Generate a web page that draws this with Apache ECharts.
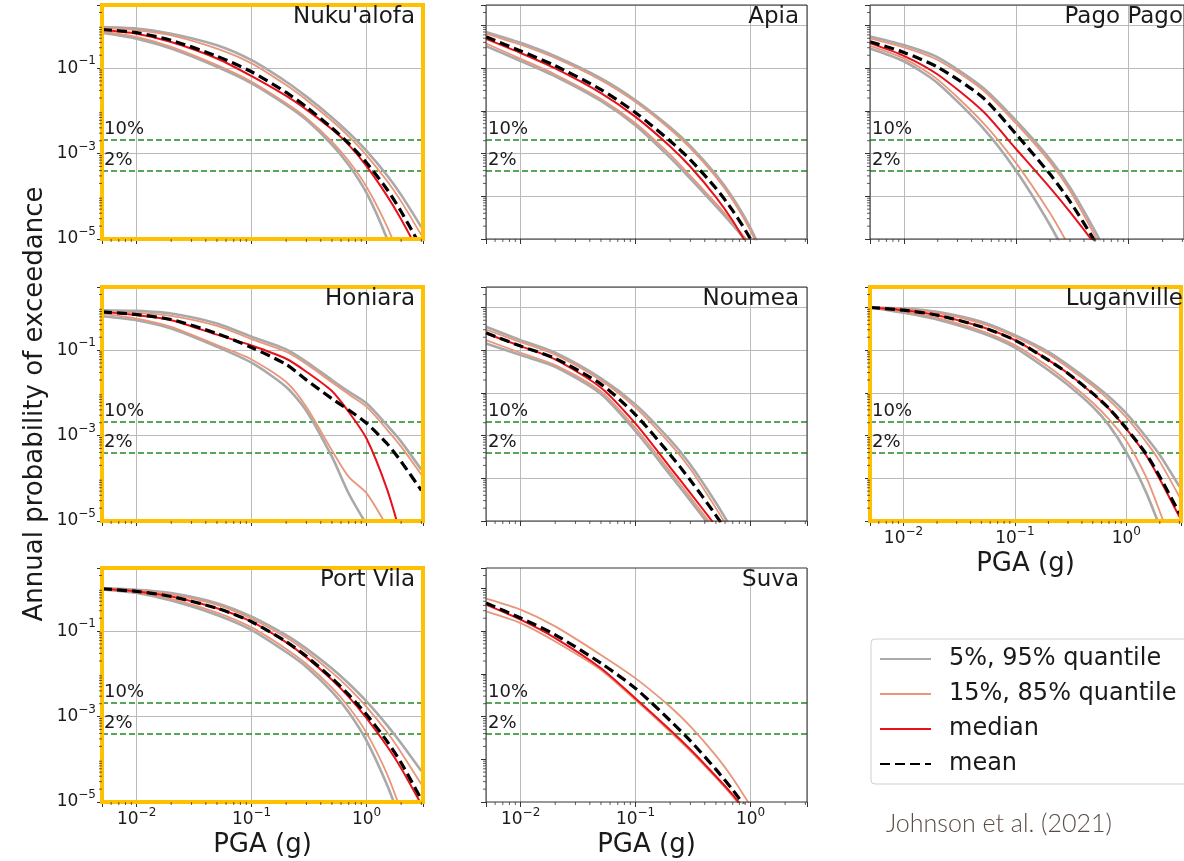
<!DOCTYPE html>
<html><head><meta charset="utf-8">
<script src="https://cdn.jsdelivr.net/npm/echarts@6/dist/echarts.min.js"></script>
<style>html,body{margin:0;padding:0;background:#fff}#chart{width:1184px;height:861px}</style>
</head><body><div id="chart"></div>
<script>
// ---------------- data ----------------
const PGA = [0.005, 0.01, 0.02, 0.05, 0.1, 0.2, 0.3, 0.5, 0.7, 1.0, 1.5, 2.0, 3.0];
const LINE_10PCT = 1 / 475;   // 10% in 50 years
const LINE_2PCT = 1 / 2475;   // 2% in 50 years
const SERIES_NAMES = ['5%, 95% quantile', '15%, 85% quantile', 'median', 'mean'];

const nuku_q05  = [0.675, 0.49, 0.286, 0.107, 0.044, 0.0138, 0.00614, 0.00163, 5.4e-4, 1.2e-4, 1.05e-5, 1.05e-6, null];
const nuku_q15  = [0.72, 0.536, 0.313, 0.117, 0.048, 0.0151, 0.00686, 0.00191, 6.7e-4, 1.67e-4, 2.03e-5, 3.1e-6, null];
const nuku_q50  = [0.79, 0.64, 0.409, 0.168, 0.065, 0.0224, 0.0107, 0.0037, 0.0016, 5.1e-4, 1.05e-4, 2.9e-5, 3.8e-6];
const nuku_mean = [0.80, 0.675, 0.448, 0.19, 0.082, 0.027, 0.0123, 0.0040, 0.00172, 6.1e-4, 1.48e-4, 4.4e-5, 6.3e-6];
const nuku_q85  = [0.87, 0.766, 0.585, 0.286, 0.129, 0.040, 0.018, 0.00585, 0.00252, 9.1e-4, 2.34e-4, 7.6e-5, 1.23e-5];
const nuku_q95  = [0.91, 0.84, 0.64, 0.343, 0.153, 0.048, 0.0215, 0.0070, 0.00306, 0.00115, 3.14e-4, 1.08e-4, 1.9e-5];

const apia_q05  = [0.327, 0.147, 0.0641, 0.017, 0.00455, 8.05e-4, 2.59e-4, 5.9e-5, 2.14e-5, 6.8e-6, null, null, null];
const apia_q15  = [0.376, 0.165, 0.071, 0.019, 0.0051, 9.4e-4, 3.0e-4, 6.8e-5, 2.4e-5, 7.4e-6, null, null, null];
const apia_q50  = [0.484, 0.226, 0.0984, 0.0261, 0.00723, 0.00147, 4.9e-4, 9.6e-5, 2.67e-5, 5.4e-6, null, null, null];
const apia_mean = [0.54, 0.252, 0.1135, 0.0315, 0.00904, 0.00197, 7.1e-4, 1.54e-4, 4.6e-5, 9.9e-6, 8.7e-7, null, null];
const apia_q85  = [0.644, 0.352, 0.172, 0.052, 0.016, 0.0037, 0.00134, 2.85e-4, 8.1e-5, 1.55e-5, 1.4e-6, null, null];
const apia_q95  = [0.705, 0.391, 0.189, 0.0574, 0.0177, 0.00412, 0.0015, 3.23e-4, 9.3e-5, 1.8e-5, 1.6e-6, null, null];

const pago_q05  = [0.289, 0.1445, 0.0445, 0.0041, 3.9e-4, 2.1e-5, 2.8e-6, null, null, null, null, null, null];
const pago_q15  = [0.333, 0.169, 0.0538, 0.00545, 5.9e-4, 4.0e-5, 6.2e-6, null, null, null, null, null, null];
const pago_q50  = [0.385, 0.194, 0.0708, 0.010, 0.00126, 1.57e-4, 4.3e-5, 7.6e-6, null, null, null, null, null];
const pago_mean = [0.414, 0.233, 0.105, 0.0208, 0.0028, 3.26e-4, 7.6e-5, 8.9e-6, 1.9e-6, null, null, null, null];
const pago_q85  = [0.495, 0.305, 0.155, 0.0312, 0.0050, 6.2e-4, 1.35e-4, 1.2e-5, 2e-6, null, null, null, null];
const pago_q95  = [0.552, 0.346, 0.178, 0.0355, 0.0058, 7.3e-4, 1.62e-4, 1.55e-5, 2.7e-6, null, null, null, null];

const honi_q05  = [0.622, 0.501, 0.321, 0.12, 0.0506, 0.0137, 0.00377, 3.2e-4, 4.4e-5, 8.3e-6, null, null, null];
const honi_q15  = [0.718, 0.548, 0.351, 0.131, 0.0605, 0.0179, 0.00467, 4.5e-4, 1.08e-4, 4.5e-5, 7.6e-6, null, null];
const honi_q50  = [0.785, 0.656, 0.50, 0.23, 0.1285, 0.0628, 0.0312, 0.01104, 0.00357, 8.5e-4, 5.8e-5, 4.4e-6, null];
const honi_mean = [0.785, 0.681, 0.52, 0.245, 0.115, 0.0463, 0.02, 0.0073, 0.00397, 0.00194, 6.6e-4, 2.47e-4, 5.2e-5];
const honi_q85  = [0.771, 0.744, 0.634, 0.37, 0.181, 0.0914, 0.0471, 0.0176, 0.00923, 0.00475, 0.0014, 5.5e-4, 1.21e-4];
const honi_q95  = [0.859, 0.828, 0.718, 0.42, 0.205, 0.104, 0.0534, 0.02, 0.01065, 0.00569, 0.00177, 7.2e-4, 1.58e-4];

const noum_q05  = [0.143, 0.0764, 0.0408, 0.0094, 0.00126, 1.2e-4, 3.0e-5, 5.0e-6, null, null, null, null, null];
const noum_q15  = [0.171, 0.0867, 0.0446, 0.0108, 0.0015, 1.45e-4, 3.6e-5, 6.0e-6, null, null, null, null, null];
const noum_q50  = [0.245, 0.124, 0.0605, 0.0132, 0.0019, 1.8e-4, 4.5e-5, 7.6e-6, null, null, null, null, null];
const noum_mean = [0.254, 0.124, 0.0638, 0.016, 0.00306, 3.56e-4, 9.0e-5, 1.36e-5, 3.5e-6, null, null, null, null];
const noum_q85  = [0.304, 0.154, 0.0778, 0.0195, 0.0045, 6.4e-4, 1.65e-4, 2.0e-5, 4.4e-6, null, null, null, null];
const noum_q95  = [0.351, 0.171, 0.0867, 0.0219, 0.0053, 7.9e-4, 2.07e-4, 2.67e-5, 5.9e-6, null, null, null, null];

const lug_q05  = [0.995, 0.746, 0.521, 0.254, 0.115, 0.034, 0.0152, 0.00473, 0.00173, 4.1e-4, 4.8e-5, 7.4e-6, null];
const lug_q15  = [0.995, 0.787, 0.57, 0.283, 0.131, 0.0408, 0.0182, 0.00586, 0.0024, 7.6e-4, 1.1e-4, 1.66e-5, 1e-6];
const lug_q50  = [0.995, 0.861, 0.658, 0.351, 0.171, 0.0583, 0.0284, 0.0095, 0.0042, 0.00143, 3.5e-4, 9.5e-5, 1.25e-5];
const lug_mean = [0.995, 0.861, 0.658, 0.351, 0.171, 0.0583, 0.0284, 0.0097, 0.00432, 0.00148, 3.8e-4, 1.09e-4, 1.52e-5];
const lug_q85  = [0.995, 0.91, 0.746, 0.421, 0.205, 0.0806, 0.0393, 0.0144, 0.00678, 0.00267, 7.2e-4, 2.45e-4, 3.7e-5];
const lug_q95  = [0.995, 0.942, 0.787, 0.46, 0.224, 0.0914, 0.0446, 0.0166, 0.0081, 0.0033, 9.4e-4, 3.5e-4, 6.4e-5];

const pv_q05  = [0.94, 0.777, 0.521, 0.239, 0.106, 0.0325, 0.0145, 0.00383, 0.00126, 2.72e-4, 2.6e-5, 3.5e-6, null];
const pv_q15  = [0.95, 0.81, 0.57, 0.271, 0.122, 0.0383, 0.017, 0.00474, 0.00167, 4.15e-4, 4.7e-5, 6.2e-6, null];
const pv_q50  = [0.98, 0.85, 0.647, 0.343, 0.166, 0.0547, 0.0243, 0.00731, 0.0029, 9.2e-4, 2.07e-4, 6.2e-5, 8.8e-6];
const pv_mean = [0.98, 0.85, 0.647, 0.343, 0.166, 0.0566, 0.0257, 0.00793, 0.00325, 0.00111, 2.7e-4, 8.3e-5, 1.14e-5];
const pv_q85  = [0.99, 0.897, 0.721, 0.411, 0.195, 0.0705, 0.033, 0.0108, 0.00468, 0.00168, 4.4e-4, 1.45e-4, 2.6e-5];
const pv_q95  = [1.0, 0.93, 0.777, 0.451, 0.218, 0.0805, 0.0388, 0.0133, 0.00593, 0.00226, 6.4e-4, 2.38e-4, 5.3e-5];

const suva_q15  = [0.29, 0.154, 0.0571, 0.0123, 0.00242, 4.4e-4, 1.55e-4, 3.7e-5, 1.35e-5, 4.1e-6, null, null, null];
const suva_q50  = [0.417, 0.185, 0.0684, 0.0135, 0.00265, 4.85e-4, 1.69e-4, 4.0e-5, 1.47e-5, 4.5e-6, null, null, null];
const suva_mean = [0.456, 0.202, 0.082, 0.0177, 0.00456, 8.05e-4, 2.7e-4, 5.8e-5, 1.92e-5, 5.3e-6, null, null, null];
const suva_q85  = [0.577, 0.318, 0.129, 0.0277, 0.00783, 0.0017, 5.9e-4, 1.22e-4, 3.6e-5, 8.1e-6, null, null, null];

// ---------------- layout / style ----------------
const FONT = "'DejaVu Sans', sans-serif";
const X_MIN = 0.005, X_MAX = 3.1, Y_MIN = 1e-5, Y_MAX = 3;
const COL_LEFT = [102, 486, 870];
const ROW_TOP = [5, 287, 568];
const PW = 321, PH = 234;

// minor (log) tick positions: 2..9 x 10^k inside each axis range
const MINOR_X = [], MINOR_Y = [];
for (let e = -3; e <= 0; e++) for (let m = 2; m <= 9; m++) {
  const v = m * Math.pow(10, e);
  if (v > X_MIN * 1.0001 && v < X_MAX * 0.9999) MINOR_X.push(v);
}
for (let e = -5; e <= 0; e++) for (let m = 2; m <= 9; m++) {
  const v = m * Math.pow(10, e);
  if (v > Y_MIN * 1.0001 && v < Y_MAX * 0.9999) MINOR_Y.push(v);
}

const panels = [
  {name: "Nuku'alofa", col: 0, row: 0, frame: true,  yStep: 2, hgrid: true, yLab: true,  xLab: false, d: [nuku_q05, nuku_q95, nuku_q15, nuku_q85, nuku_q50, nuku_mean]},
  {name: 'Apia',       col: 1, row: 0, frame: false, yStep: 1, hgrid: true, yLab: false, xLab: false, d: [apia_q05, apia_q95, apia_q15, apia_q85, apia_q50, apia_mean]},
  {name: 'Pago Pago',  col: 2, row: 0, frame: false, yStep: 1, hgrid: true, yLab: false, xLab: false, d: [pago_q05, pago_q95, pago_q15, pago_q85, pago_q50, pago_mean]},
  {name: 'Honiara',    col: 0, row: 1, frame: true,  yStep: 2, hgrid: true, yLab: true,  xLab: false, yName: true, d: [honi_q05, honi_q95, honi_q15, honi_q85, honi_q50, honi_mean]},
  {name: 'Noumea',     col: 1, row: 1, frame: false, yStep: 1, hgrid: true, yLab: false, xLab: false, d: [noum_q05, noum_q95, noum_q15, noum_q85, noum_q50, noum_mean]},
  {name: 'Luganville', col: 2, row: 1, frame: true,  yStep: 1, hgrid: true, yLab: false, xLab: true,  d: [lug_q05, lug_q95, lug_q15, lug_q85, lug_q50, lug_mean]},
  {name: 'Port Vila',  col: 0, row: 2, frame: true,  yStep: 2, hgrid: true, yLab: true,  xLab: true,  d: [pv_q05, pv_q95, pv_q15, pv_q85, pv_q50, pv_mean]},
  {name: 'Suva',       col: 1, row: 2, frame: false, yStep: 1, hgrid: false, yLab: false, xLab: true, d: [null, null, suva_q15, suva_q85, suva_q50, suva_mean]}
];

const STYLES = [
  {name: SERIES_NAMES[0], color: '#a9a9a9', width: 2.6, type: 'solid'},
  {name: SERIES_NAMES[0], color: '#a9a9a9', width: 2.6, type: 'solid'},
  {name: SERIES_NAMES[1], color: '#e9967a', width: 1.8, type: 'solid'},
  {name: SERIES_NAMES[1], color: '#e9967a', width: 1.8, type: 'solid'},
  {name: SERIES_NAMES[2], color: '#e8101a', width: 2.0, type: 'solid'},
  {name: SERIES_NAMES[3], color: '#000000', width: 3.2, type: [10, 5]}
];

function powLabel(v) {
  const l = Math.log10(v);
  const e = Math.round(l);
  if (Math.abs(l - e) > 1e-6) return '';
  return '{b|10}{s|' + (e < 0 ? '\u2212' : '') + Math.abs(e) + '}';
}
const RICH = {
  b: {fontFamily: FONT, fontSize: 17, color: '#1a1a1a', lineHeight: 26},
  s: {fontFamily: FONT, fontSize: 12, color: '#1a1a1a', lineHeight: 12, verticalAlign: 'top'}
};

const option = {
  animation: false,
  backgroundColor: '#ffffff',
  title: [], grid: [], xAxis: [], yAxis: [], series: [],
  legend: {
    data: SERIES_NAMES,
    orient: 'vertical',
    left: 871, top: 639,
    padding: [8, 14, 8, 8],
    itemWidth: 51, itemHeight: 14, itemGap: 11,
    borderColor: '#cfcfcf', borderWidth: 1, borderRadius: 4,
    backgroundColor: '#ffffff',
    selectedMode: false,
    itemStyle: {opacity: 0},
    textStyle: {fontFamily: FONT, fontSize: 24, color: '#1a1a1a', lineHeight: 24, padding: [0, 0, 0, 13]}
  }
};

function hLine(label, y) {
  return [
    {name: label, coord: [X_MIN, y]},
    {coord: [X_MAX, y]}
  ];
}

function renderMinorTick(params, api) {
  const p = api.coord([api.value(0), api.value(1)]);
  const isY = api.value(2) === 1;
  return {
    type: 'line',
    shape: isY ? {x1: p[0] - 3, y1: p[1], x2: p[0], y2: p[1]}
               : {x1: p[0], y1: p[1], x2: p[0], y2: p[1] + 3},
    style: {stroke: '#333', lineWidth: 0.8}
  };
}

panels.forEach((p, i) => {
  const left = COL_LEFT[p.col], top = ROW_TOP[p.row];
  option.grid.push({
    left: left, top: top, width: PW, height: PH, show: true, z: 3,
    backgroundColor: 'rgba(0,0,0,0)',
    borderColor: p.frame ? '#FFC000' : '#333333',
    borderWidth: p.frame ? 4 : 1
  });
  option.xAxis.push({
    type: 'log', logBase: 10, gridIndex: i, min: X_MIN, max: X_MAX,
    axisLine: {show: false},
    axisTick: {show: true, length: 5, lineStyle: {color: '#333'}},
    axisLabel: {show: p.xLab, formatter: powLabel, rich: RICH, margin: 5},
    splitLine: {show: true, lineStyle: {color: '#bababa', width: 1}},
    name: p.xLab ? 'PGA (g)' : '', nameLocation: 'middle', nameGap: 30,
    nameTextStyle: {fontFamily: FONT, fontSize: 26, color: '#1a1a1a'}
  });
  option.yAxis.push({
    type: 'log', logBase: 10, gridIndex: i, min: Y_MIN, max: Y_MAX, interval: p.yStep,
    axisLine: {show: false},
    axisTick: {show: true, length: 5, lineStyle: {color: '#333'}},
    axisLabel: {show: p.yLab, formatter: powLabel, rich: RICH, margin: 6},
    splitLine: {show: p.hgrid, lineStyle: {color: '#bababa', width: 1}},
    name: p.yName ? 'Annual probability of exceedance' : '',
    nameLocation: 'middle', nameGap: 54, nameRotate: 90,
    nameTextStyle: {fontFamily: FONT, fontSize: 26, color: '#1a1a1a'}
  });
  option.title.push({
    text: p.name, right: 1184 - (left + PW - 8), top: top + 1, padding: 0,
    textStyle: {fontFamily: FONT, fontSize: 23, fontWeight: 'normal', color: '#1a1a1a'}
  });
  let first = true;
  p.d.forEach((vals, k) => {
    if (!vals) return;
    const st = STYLES[k];
    const s = {
      type: 'line', name: st.name, xAxisIndex: i, yAxisIndex: i,
      data: PGA.map((x, j) => [x, vals[j]]).filter(d => d[1] != null),
      symbol: 'none', smooth: 0.25,
      color: st.color,
      lineStyle: {color: st.color, width: st.width, type: st.type},
      z: 2, silent: true
    };
    if (first) {
      s.markLine = {
        silent: true, symbol: ['none', 'none'], animation: false, z: 1,
        lineStyle: {color: '#228b22', type: [6, 3], width: 1.5},
        label: {show: true, position: 'insideStartTop', formatter: '{b}', distance: [2, 1],
                fontFamily: FONT, fontSize: 18, color: '#1a1a1a'},
        data: [hLine('10%', LINE_10PCT), hLine('2%', LINE_2PCT)]
      };
      first = false;
    }
    option.series.push(s);
  });
  // minor log ticks on the bottom and left axes
  option.series.push({
    type: 'custom', xAxisIndex: i, yAxisIndex: i, silent: true, clip: false, z: 4,
    data: MINOR_X.map(v => [v, Y_MIN, 0]).concat(MINOR_Y.map(v => [X_MIN, v, 1])),
    renderItem: renderMinorTick
  });
});

option.title.push({
  text: 'Johnson et al. (2021)', left: 886, top: 811, padding: 0,
  textStyle: {fontFamily: "Lato, 'Open Sans', sans-serif", fontSize: 25, fontWeight: 300, color: '#5c4b45'}
});

const chart = echarts.init(document.getElementById('chart'), null, {renderer: 'canvas'});
chart.setOption(option);
</script>
</body></html>
